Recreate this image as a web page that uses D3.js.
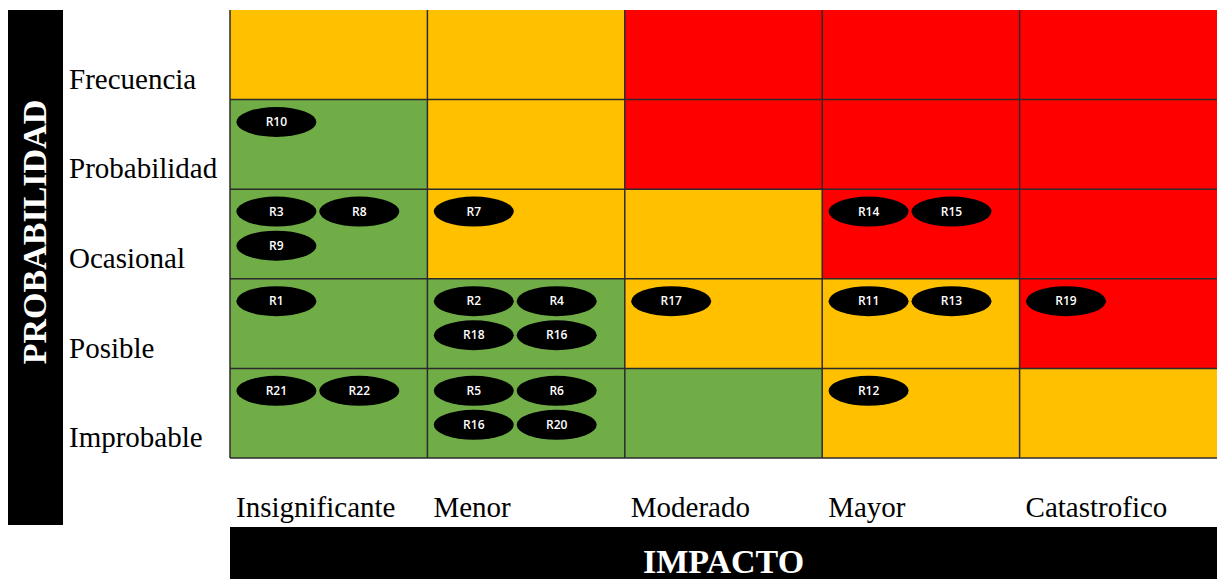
<!DOCTYPE html>
<meta charset="utf-8">
<style>
  body { margin: 0; background: #fff; }
  .rowLabel, .colLabel { font-family: "Liberation Serif", "Times New Roman", serif; fill: #000; }
  .title { font-family: "Liberation Serif", "Times New Roman", serif; font-weight: bold; fill: #fff; }
  .risk text { font-family: "Open Sans", "Liberation Sans", sans-serif; font-weight: 600; fill: #fff; }
</style>
<body>
  <div id="chart"></div>

  <script src="https://cdn.jsdelivr.net/npm/d3@7"></script>
  <script>
    // rows top -> bottom
    var probabilidad = ['Frecuencia', 'Probabilidad', 'Ocasional', 'Posible', 'Improbable'];
    // columns left -> right
    var impacto = ['Insignificante', 'Menor', 'Moderado', 'Mayor', 'Catastrofico'];

    // level per cell (B = bajo, M = medio, A = alto)
    var niveles = [
      ['M', 'M', 'A', 'A', 'A'],
      ['B', 'M', 'A', 'A', 'A'],
      ['B', 'M', 'M', 'A', 'A'],
      ['B', 'B', 'M', 'M', 'A'],
      ['B', 'B', 'B', 'M', 'M']
    ];

    // risk name, probability, impact, slot in the cell (0 1 top line, 2 3 second line)
    var riesgos = [
      ['R10', 'Probabilidad', 'Insignificante', 0],
      ['R3', 'Ocasional', 'Insignificante', 0],
      ['R8', 'Ocasional', 'Insignificante', 1],
      ['R9', 'Ocasional', 'Insignificante', 2],
      ['R7', 'Ocasional', 'Menor', 0],
      ['R14', 'Ocasional', 'Mayor', 0],
      ['R15', 'Ocasional', 'Mayor', 1],
      ['R1', 'Posible', 'Insignificante', 0],
      ['R2', 'Posible', 'Menor', 0],
      ['R4', 'Posible', 'Menor', 1],
      ['R18', 'Posible', 'Menor', 2],
      ['R16', 'Posible', 'Menor', 3],
      ['R17', 'Posible', 'Moderado', 0],
      ['R11', 'Posible', 'Mayor', 0],
      ['R13', 'Posible', 'Mayor', 1],
      ['R19', 'Posible', 'Catastrofico', 0],
      ['R21', 'Improbable', 'Insignificante', 0],
      ['R22', 'Improbable', 'Insignificante', 1],
      ['R5', 'Improbable', 'Menor', 0],
      ['R6', 'Improbable', 'Menor', 1],
      ['R16', 'Improbable', 'Menor', 2],
      ['R20', 'Improbable', 'Menor', 3],
      ['R12', 'Improbable', 'Mayor', 0]
    ];

    var colores = { B: '#70ad47', M: '#ffc000', A: '#ff0000' };

    var W = 1217, H = 579;
    var margin = { top: 10, right: 0, bottom: 121, left: 230 };
    var width = W - margin.left - margin.right;
    var height = H - margin.top - margin.bottom;

    var svg = d3.select('#chart').append('svg')
      .attr('width', W)
      .attr('height', H);

    var x = d3.scaleBand().domain(impacto).range([margin.left, margin.left + width]);
    var y = d3.scaleBand().domain(probabilidad).range([margin.top, margin.top + height]);

    // slot centres inside one cell
    var sx = d3.scalePoint().domain([0, 1]).range([x.bandwidth() * 0.235, x.bandwidth() * 0.655]);
    var sy = d3.scalePoint().domain([0, 1]).range([y.bandwidth() * 0.25, y.bandwidth() * 0.63]);

    var cells = [];
    niveles.forEach(function (fila, i) {
      fila.forEach(function (n, j) {
        cells.push({ p: probabilidad[i], im: impacto[j], nivel: n });
      });
    });

    svg.append('g').selectAll('rect')
      .data(cells)
      .enter()
      .append('rect')
      .attr('x', d => x(d.im))
      .attr('y', d => y(d.p))
      .attr('width', x.bandwidth())
      .attr('height', y.bandwidth())
      .attr('fill', d => colores[d.nivel]);

    // grid lines
    var grid = svg.append('g').attr('stroke', '#2b2b2b').attr('stroke-width', 1.5);
    grid.selectAll('.v')
      .data(impacto)
      .enter()
      .append('line')
      .attr('x1', d => x(d)).attr('x2', d => x(d))
      .attr('y1', margin.top).attr('y2', margin.top + height);
    grid.selectAll('.h')
      .data(probabilidad.slice(1).concat(['_end']))
      .enter()
      .append('line')
      .attr('x1', margin.left).attr('x2', margin.left + width)
      .attr('y1', d => d === '_end' ? margin.top + height : y(d))
      .attr('y2', d => d === '_end' ? margin.top + height : y(d));

    // risks
    var g = svg.append('g').selectAll('.risk')
      .data(riesgos)
      .enter()
      .append('g')
      .attr('class', 'risk')
      .attr('transform', function (d) {
        var cx = x(d[2]) + sx(d[3] % 2);
        var cy = y(d[1]) + sy(Math.floor(d[3] / 2));
        return 'translate(' + cx + ',' + cy + ')';
      });
    g.append('ellipse')
      .attr('rx', 40)
      .attr('ry', 15)
      .attr('fill', '#000');
    g.append('text')
      .attr('text-anchor', 'middle')
      .attr('dy', '0.35em')
      .style('font-size', '12px')
      .text(d => d[0]);

    // row labels
    svg.append('g').selectAll('text')
      .data(probabilidad)
      .enter()
      .append('text')
      .attr('class', 'rowLabel')
      .attr('x', 69)
      .attr('y', d => y(d) + y.bandwidth() * 0.88)
      .style('font-size', '29px')
      .text(d => d);

    // column labels
    svg.append('g').selectAll('text')
      .data(impacto)
      .enter()
      .append('text')
      .attr('class', 'colLabel')
      .attr('x', d => x(d) + 6)
      .attr('y', 517)
      .style('font-size', '29px')
      .text(d => d);

    // left title bar
    svg.append('rect')
      .attr('x', 8).attr('y', margin.top)
      .attr('width', 55).attr('height', 515)
      .attr('fill', '#000');
    svg.append('text')
      .attr('class', 'title')
      .attr('transform', 'translate(46,232) rotate(-90)')
      .attr('text-anchor', 'middle')
      .style('font-size', '34px')
      .text('PROBABILIDAD');

    // bottom title bar
    svg.append('rect')
      .attr('x', margin.left).attr('y', 527)
      .attr('width', width).attr('height', H - 527)
      .attr('fill', '#000');
    svg.append('text')
      .attr('class', 'title')
      .attr('x', margin.left + width / 2)
      .attr('y', 573)
      .attr('text-anchor', 'middle')
      .style('font-size', '34px')
      .text('IMPACTO');
  </script>
</body>
